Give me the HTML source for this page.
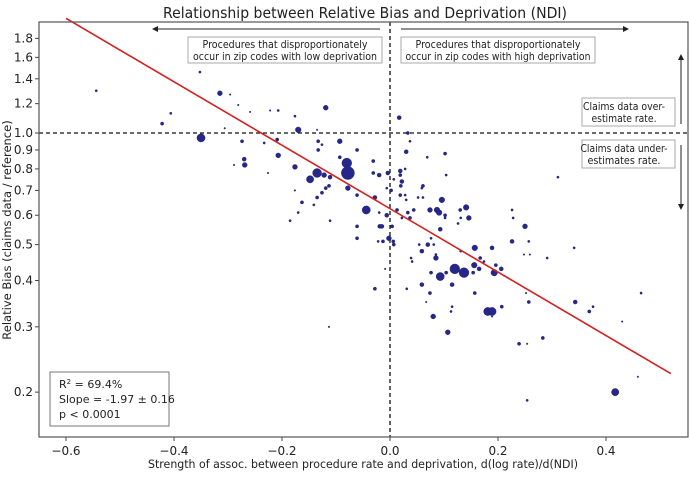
<!DOCTYPE html>
<html><head><meta charset="utf-8"><style>
body{margin:0;background:#fff;}
svg text{font-family:"DejaVu Sans","Liberation Sans",sans-serif;fill:#222;}
</style></head><body>
<svg id="chart" width="689" height="472" viewBox="0 0 689 472" xmlns="http://www.w3.org/2000/svg">
<text x="365" y="18" font-size="15" text-anchor="middle" textLength="404" lengthAdjust="spacingAndGlyphs" font-family="Liberation Sans, sans-serif">Relationship between Relative Bias and Deprivation (NDI)</text>
<g id="plot"></g>
</svg>
<script>
const xTicks=[-0.6,-0.4,-0.2,0.0,0.2,0.4];
const xTickLabels=["\u22120.6","\u22120.4","\u22120.2","0.0","0.2","0.4"];
const yTicks=[0.2,0.3,0.4,0.5,0.6,0.7,0.8,0.9,1.0,1.2,1.4,1.6,1.8];
const yTickLabels=["0.2","0.3","0.4","0.5","0.6","0.7","0.8","0.9","1.0","1.2","1.4","1.6","1.8"];
const xs=[-0.544,-0.352,-0.315,-0.296,-0.281,-0.406,-0.422,-0.350,-0.306,-0.274,-0.269,-0.289,-0.259,-0.233,-0.226,-0.222,-0.207,-0.209,-0.207,-0.176,-0.170,-0.176,-0.176,-0.163,-0.170,-0.185,-0.135,-0.119,-0.133,-0.133,-0.148,-0.135,-0.122,-0.111,-0.126,-0.119,-0.135,-0.141,-0.093,-0.080,-0.078,-0.078,-0.111,-0.093,-0.044,0.017,-0.270,-0.061,-0.028,-0.031,-0.020,-0.004,-0.006,-0.019,-0.061,-0.020,-0.006,-0.126,-0.061,-0.031,-0.113,0.033,0.037,0.030,0.069,0.102,0.104,0.019,0.019,0.022,0.020,0.002,0.007,0.028,0.061,0.059,0.096,0.141,0.146,0.074,0.087,0.091,0.052,0.061,0.044,0.030,0.028,0.019,0.013,0.033,0.037,0.022,0.102,0.102,0.130,0.131,0.126,0.093,0.250,0.226,0.228,0.311,-0.006,-0.015,0.004,-0.061,-0.022,-0.013,-0.002,0.006,0.007,-0.009,-0.028,0.031,0.059,0.054,0.070,0.059,0.076,0.081,0.085,0.085,0.039,0.041,0.076,0.093,0.120,0.137,0.104,0.115,0.074,0.067,0.113,0.115,0.080,0.107,0.131,0.157,0.156,0.165,0.154,0.157,0.167,0.174,0.189,0.193,0.196,0.206,0.181,0.189,0.189,0.207,0.226,0.257,0.248,0.259,0.291,0.341,0.252,0.257,0.239,0.254,0.283,0.343,0.369,0.376,0.430,0.465,0.459,0.417,0.254,-0.113];
const ys=[1.30,1.46,1.28,1.27,1.19,1.13,1.06,0.97,1.03,0.95,0.82,0.82,1.14,0.94,0.78,1.15,1.15,0.96,0.87,1.11,1.02,0.81,0.70,0.65,0.61,0.58,1.02,1.17,0.95,0.90,0.75,0.78,0.77,0.76,0.69,0.71,0.67,0.64,0.86,0.83,0.78,0.71,0.58,0.95,0.62,1.10,0.85,0.68,0.67,0.78,0.77,0.78,0.71,0.56,0.56,0.61,0.60,0.93,0.90,0.84,0.72,1.00,0.95,0.89,0.86,0.88,0.77,0.79,0.77,0.74,0.72,0.70,0.75,0.80,0.72,0.71,0.66,0.63,0.59,0.62,0.62,0.61,0.67,0.67,0.62,0.66,0.68,0.68,0.62,0.61,0.59,0.59,0.60,0.59,0.62,0.59,0.57,0.55,0.56,0.62,0.59,0.76,0.60,0.56,0.56,0.52,0.51,0.51,0.52,0.51,0.50,0.43,0.38,0.38,0.39,0.50,0.50,0.48,0.52,0.50,0.46,0.47,0.46,0.45,0.42,0.41,0.43,0.42,0.42,0.39,0.37,0.35,0.33,0.34,0.32,0.29,0.48,0.49,0.44,0.43,0.42,0.37,0.46,0.45,0.49,0.42,0.44,0.43,0.33,0.33,0.32,0.34,0.51,0.51,0.47,0.47,0.46,0.49,0.37,0.35,0.27,0.27,0.28,0.35,0.33,0.34,0.31,0.37,0.22,0.20,0.19,0.30];
const markerSizes=[2,2,9,1,1,2,4,25,1,4,9,1,1,2,1,1,2,4,9,2,12,9,1,4,2,2,1,9,4,4,20,30,9,6,4,4,4,2,4,36,64,9,2,9,25,6,6,4,6,4,6,6,2,6,4,2,4,2,4,4,4,4,2,6,2,4,2,6,4,6,4,4,2,2,4,2,12,12,9,9,12,12,2,2,4,2,2,4,4,4,4,2,4,2,4,2,2,6,9,2,2,2,6,6,4,4,2,4,9,4,4,1,4,2,6,2,6,6,2,2,9,2,2,2,4,25,36,36,4,6,4,1,2,2,9,9,2,12,12,6,4,4,4,2,6,16,4,6,25,25,1,4,6,2,1,1,2,2,1,4,4,1,4,6,4,2,1,2,1,20,2,1];
const fitIntercept=-0.47, fitSlope=-1.97;
const fitRange=[-0.6,0.52];

const L=39,R=688,T=22,B=437;
const X=v=>390+540*v;
const Y=v=>133-161*Math.log(v);
const NS="http://www.w3.org/2000/svg";
const g=document.getElementById('plot');
function mk(tag,attrs){const e=document.createElementNS(NS,tag);for(const k in attrs)e.setAttribute(k,attrs[k]);g.appendChild(e);return e;}

xTicks.forEach((t,i)=>{
  const tk=mk('line',{x1:X(t),x2:X(t),y1:B,y2:B+4,stroke:'#444'});
  
  
  const tx=mk('text',{x:X(t),y:B+18,'font-size':12,'text-anchor':'middle'});
  tx.textContent=xTickLabels[i];
  
  
});
yTicks.forEach((t,i)=>{
  const tk=mk('line',{x1:L-4,x2:L,y1:Y(t),y2:Y(t),stroke:'#444'});
  
  
  const tx=mk('text',{x:L-6,y:Y(t)+4,'font-size':12,'text-anchor':'end'});
  tx.textContent=yTickLabels[i];
  
  
});

const h=mk('line',{x1:L,x2:R,y1:Y(1),y2:Y(1),stroke:'#111','stroke-width':1.3,'stroke-dasharray':'4,3'});


const v=mk('line',{x1:X(0),x2:X(0),y1:T,y2:B,stroke:'#111','stroke-width':1.3,'stroke-dasharray':'4,3'});



xs.forEach((x,i)=>{
  const c=mk('circle',{cx:X(x),cy:Y(ys[i]),r:Math.max(0.8,0.82*Math.sqrt(markerSizes[i])),fill:'#27278a',stroke:'#1a1a6e','stroke-width':0.4});
  
  
});

const fl=mk('line',{x1:X(fitRange[0]),y1:Y(Math.exp(fitIntercept+fitSlope*fitRange[0])),x2:X(fitRange[1]),y2:Y(Math.exp(fitIntercept+fitSlope*fitRange[1])),stroke:'#d62020','stroke-width':1.6});



const fr=mk('rect',{x:L,y:T,width:R-L,height:B-T,fill:'none',stroke:'#555','stroke-width':1.2});


</script>
<svg style="position:absolute;left:0;top:0" width="689" height="472">
<defs><marker id="ah" markerWidth="6" markerHeight="6" refX="5" refY="3" orient="auto"><path d="M0,0 L6,3 L0,6 z" fill="#222"/></marker></defs>
<line x1="380" y1="29" x2="153" y2="29" stroke="#222" stroke-width="1" marker-end="url(#ah)"/>
<line x1="401" y1="29" x2="628" y2="29" stroke="#222" stroke-width="1" marker-end="url(#ah)"/>
<line x1="681" y1="124" x2="681" y2="55" stroke="#222" stroke-width="1" marker-end="url(#ah)"/>
<line x1="681" y1="145" x2="681" y2="209" stroke="#222" stroke-width="1" marker-end="url(#ah)"/>
<g font-family="Liberation Sans, sans-serif" font-size="10.5"><rect x="188" y="37" width="194" height="26" fill="#fff" stroke="#aaa"/>
<text x="285" y="48" text-anchor="middle" textLength="165" lengthAdjust="spacingAndGlyphs">Procedures that disproportionately</text>
<text x="285" y="60" text-anchor="middle" textLength="184" lengthAdjust="spacingAndGlyphs">occur in zip codes with low deprivation</text></g>
<g font-family="Liberation Sans, sans-serif" font-size="10.5"><rect x="401" y="37" width="194" height="26" fill="#fff" stroke="#aaa"/>
<text x="498" y="48" text-anchor="middle" textLength="165" lengthAdjust="spacingAndGlyphs">Procedures that disproportionately</text>
<text x="498" y="60" text-anchor="middle" textLength="185" lengthAdjust="spacingAndGlyphs">occur in zip codes with high deprivation</text></g>
<g font-family="Liberation Sans, sans-serif" font-size="10.5"><rect x="582" y="98" width="93" height="28" fill="#fff" stroke="#aaa"/>
<text x="624" y="110" text-anchor="middle" textLength="82" lengthAdjust="spacingAndGlyphs">Claims data over-</text>
<text x="624" y="122" text-anchor="middle" textLength="65" lengthAdjust="spacingAndGlyphs">estimate rate.</text></g>
<g font-family="Liberation Sans, sans-serif" font-size="10.5"><rect x="582" y="140" width="93" height="28" fill="#fff" stroke="#aaa"/>
<text x="624" y="152" text-anchor="middle" textLength="87" lengthAdjust="spacingAndGlyphs">Claims data under-</text>
<text x="624" y="164" text-anchor="middle" textLength="73" lengthAdjust="spacingAndGlyphs">estimates rate.</text></g>
<g font-family="Liberation Sans, sans-serif" font-size="11"><rect x="50" y="372" width="119" height="54" fill="#fff" stroke="#777"/>
<text x="59" y="388">R<tspan font-size="7" dy="-4">2</tspan><tspan dy="4"> = 69.4%</tspan></text>
<text x="59" y="403">Slope = -1.97 ± 0.16</text>
<text x="59" y="418">p &lt; 0.0001</text></g>
<text x="363" y="468" font-size="11.5" text-anchor="middle" textLength="430" lengthAdjust="spacingAndGlyphs" font-family="DejaVu Sans, sans-serif" fill="#222">Strength of assoc. between procedure rate and deprivation, d(log rate)/d(NDI)</text>
<text transform="translate(11,230) rotate(-90)" font-size="11.5" text-anchor="middle" font-family="DejaVu Sans, sans-serif" fill="#222">Relative Bias (claims data / reference)</text>
</svg>
</body></html>
